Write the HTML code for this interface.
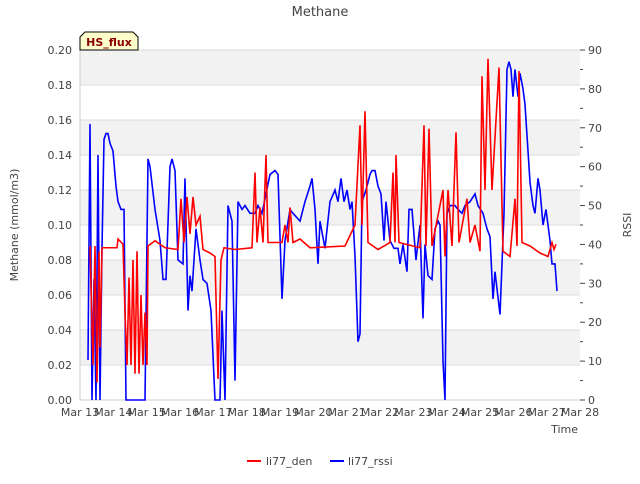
<!DOCTYPE html>
<html><head><meta charset="utf-8"><style>
body{margin:0;background:#fff;font-family:"DejaVu Sans","Liberation Sans",sans-serif}
svg text{font-family:"DejaVu Sans","Liberation Sans",sans-serif}
</style></head><body>
<svg id="chart" width="640" height="480" viewBox="0 0 640 480" xmlns="http://www.w3.org/2000/svg">
<text x="320" y="16" text-anchor="middle" font-size="13" fill="#444">Methane</text>
<g id="bands"></g>
<g id="grid"></g>
<g id="axes"></g>
<g id="series"></g>
<g>
<path d="M80,50 L80,37 L85,32 L133,32 L138,37 L138,50 Z" fill="#ffffcc" stroke="#000" stroke-width="1"/>
<text x="109" y="46" text-anchor="middle" font-size="11" font-weight="bold" fill="#8b0000">HS_flux</text>
</g>
<text transform="translate(18,225) rotate(-90)" text-anchor="middle" font-size="11" fill="#444">Methane (mmol/m3)</text>
<text transform="translate(631,225) rotate(-90)" text-anchor="middle" font-size="11" fill="#444">RSSI</text>
<text x="578" y="433" text-anchor="end" font-size="11" fill="#444">Time</text>
<g>
<line x1="247" y1="461" x2="261" y2="461" stroke="#f00" stroke-width="2"/>
<text x="266" y="465" font-size="11" fill="#444">li77_den</text></g>
<g>
<line x1="330" y1="461" x2="344" y2="461" stroke="#00f" stroke-width="2"/>
<text x="348" y="465" font-size="11" fill="#444">li77_rssi</text></g>
</svg>
<script>
const xTickLabels=["Mar 13","Mar 14","Mar 15","Mar 16","Mar 17","Mar 18","Mar 19","Mar 20","Mar 21","Mar 22","Mar 23","Mar 24","Mar 25","Mar 26","Mar 27","Mar 28"];
const leftTicks=[0,0.02,0.04,0.06,0.08,0.10,0.12,0.14,0.16,0.18,0.20];
const rightTicks=[0,10,20,30,40,50,60,70,80,90];
const denDays=[0.30,0.39,0.45,0.51,0.57,0.60,0.66,1.11,1.14,1.29,1.35,1.41,1.47,1.53,1.59,1.65,1.71,1.77,1.83,1.89,1.95,2.01,2.04,2.25,2.55,2.94,3.03,3.12,3.21,3.30,3.39,3.48,3.60,3.69,3.90,4.05,4.14,4.23,4.32,4.65,5.16,5.25,5.31,5.40,5.49,5.58,5.64,6.06,6.15,6.24,6.30,6.39,6.60,6.90,7.95,8.25,8.40,8.46,8.55,8.64,8.94,9.30,9.39,9.45,9.48,9.57,10.20,10.32,10.38,10.47,10.56,10.89,10.95,11.04,11.16,11.28,11.37,11.61,11.70,11.85,12.00,12.06,12.15,12.24,12.36,12.57,12.69,12.90,13.05,13.11,13.17,13.26,13.50,13.80,14.04,14.16,14.22,14.28];
const denValues=[.088,.02,.088,.01,.085,.03,.087,.087,.092,.089,.05,.02,.07,.02,.08,.015,.085,.015,.06,.02,.05,.02,.088,.091,.087,.086,.115,.09,.116,.095,.116,.1,.105,.086,.084,.082,.012,.08,.087,.086,.087,.13,.09,.11,.09,.14,.09,.09,.1,.09,.11,.09,.092,.087,.088,.1,.157,.1,.165,.09,.086,.09,.13,.09,.14,.09,.087,.157,.088,.155,.088,.12,.082,.12,.088,.153,.09,.115,.09,.1,.085,.185,.12,.195,.12,.19,.085,.082,.115,.088,.188,.09,.088,.084,.082,.09,.086,.089];
const rssiDays=[0.24,0.30,0.36,0.42,0.48,0.54,0.60,0.66,0.72,0.78,0.84,0.90,0.99,1.08,1.14,1.23,1.32,1.38,1.95,2.04,2.10,2.25,2.40,2.49,2.58,2.70,2.76,2.85,2.94,3.09,3.15,3.24,3.30,3.36,3.48,3.60,3.69,3.81,3.93,4.05,4.20,4.26,4.35,4.44,4.56,4.65,4.74,4.86,4.95,5.10,5.25,5.34,5.46,5.58,5.70,5.85,5.94,6.06,6.15,6.30,6.39,6.60,6.75,6.90,6.96,7.05,7.14,7.20,7.35,7.50,7.65,7.74,7.83,7.92,8.01,8.10,8.16,8.25,8.34,8.40,8.46,8.58,8.70,8.76,8.85,8.94,9.03,9.12,9.18,9.30,9.42,9.54,9.60,9.69,9.81,9.87,9.96,10.08,10.20,10.29,10.35,10.44,10.56,10.65,10.74,10.80,10.89,10.95,11.01,11.10,11.25,11.34,11.46,11.55,11.70,11.85,11.94,12.09,12.21,12.30,12.39,12.45,12.60,12.72,12.81,12.87,12.93,12.99,13.05,13.14,13.20,13.29,13.35,13.44,13.50,13.59,13.65,13.74,13.80,13.89,13.98,14.04,14.10,14.16,14.25,14.31];
const rssiValues=[10.3,71,0,31,0,63,0,39,67,68.5,68.5,66,64,55,51,49,49,0,0,62,60,49,41,31,31,60,62,59,36,35,57,23,32,28,44,36,31,30,23,0,0,23,0,50,46,5,51,49,50,48,48,50,48,53,58,59,58,26,41,49,48,46,51,55,57,49,35,46,39,51,54,51,57,51,54,49,51,37,15,17,51,54,58,59,59,55,53,41,51,41,39,39,35,40,33,49,49,36,45,21,40,32,31,44,46,45,10,0,48,50,50,49,48,50,51,53,50,48,44,42,26,33,22,48,85,87,85,78,85,78,84,80,76,64,56,50,48,57,54,45,49,45,41,35,35,28];

const NS="http://www.w3.org/2000/svg";
const L=80,R=580,T=50,B=400;
const xScale=d=>L+d*(R-L)/15;
const yLeft=v=>B-v*(B-T)/0.2;
const yRight=v=>B-v*(B-T)/90;
function mk(tag,attrs,parent){const e=document.createElementNS(NS,tag);for(const k in attrs)e.setAttribute(k,attrs[k]);parent.appendChild(e);return e;}
const bands=document.getElementById('bands'),grid=document.getElementById('grid'),axes=document.getElementById('axes'),series=document.getElementById('series');
for(let i=0;i<leftTicks.length-1;i++){
  if(i%2===1){const r=mk('rect',{x:L,y:yLeft(leftTicks[i+1]),width:R-L,height:yLeft(leftTicks[i])-yLeft(leftTicks[i+1]),fill:'#f2f2f2'},bands);
  
  }
}
leftTicks.forEach(v=>{
  const g=mk('line',{x1:L,x2:R,y1:yLeft(v),y2:yLeft(v),stroke:'#dcdcdc','stroke-width':1},grid);
  
  
  const t=mk('text',{x:L-8,y:yLeft(v)+4,'text-anchor':'end','font-size':11,fill:'#444'},axes);
  t.textContent=v.toFixed(2);
  
  
});
rightTicks.forEach(v=>{
  const t=mk('text',{x:R+8,y:yRight(v)+4,'text-anchor':'start','font-size':11,fill:'#444'},axes);
  t.textContent=v;
  
  
  mk('line',{x1:R,x2:R+5,y1:yRight(v),y2:yRight(v),stroke:'#444'},axes);
  if(v<90) mk('line',{x1:R,x2:R+3,y1:yRight(v+5),y2:yRight(v+5),stroke:'#444'},axes);
});
xTickLabels.forEach((lab,i)=>{
  const t=mk('text',{x:xScale(i),y:B+16,'text-anchor':'middle','font-size':11,fill:'#444'},axes);
  t.textContent=lab;
  
  
});
mk('line',{x1:L,x2:L,y1:T,y2:B,stroke:'#ccc'},axes);
mk('line',{x1:L,x2:R,y1:B,y2:B,stroke:'#ccc'},axes);
const pr=mk('polyline',{points:denDays.map((d,i)=>xScale(d)+','+yLeft(denValues[i])).join(' '),fill:'none',stroke:'#f00','stroke-width':1.6},series);


const pb=mk('polyline',{points:rssiDays.map((d,i)=>xScale(d)+','+yRight(rssiValues[i])).join(' '),fill:'none',stroke:'#00f','stroke-width':1.6},series);


series.insertBefore(pb,pr);
</script>
</body></html>
